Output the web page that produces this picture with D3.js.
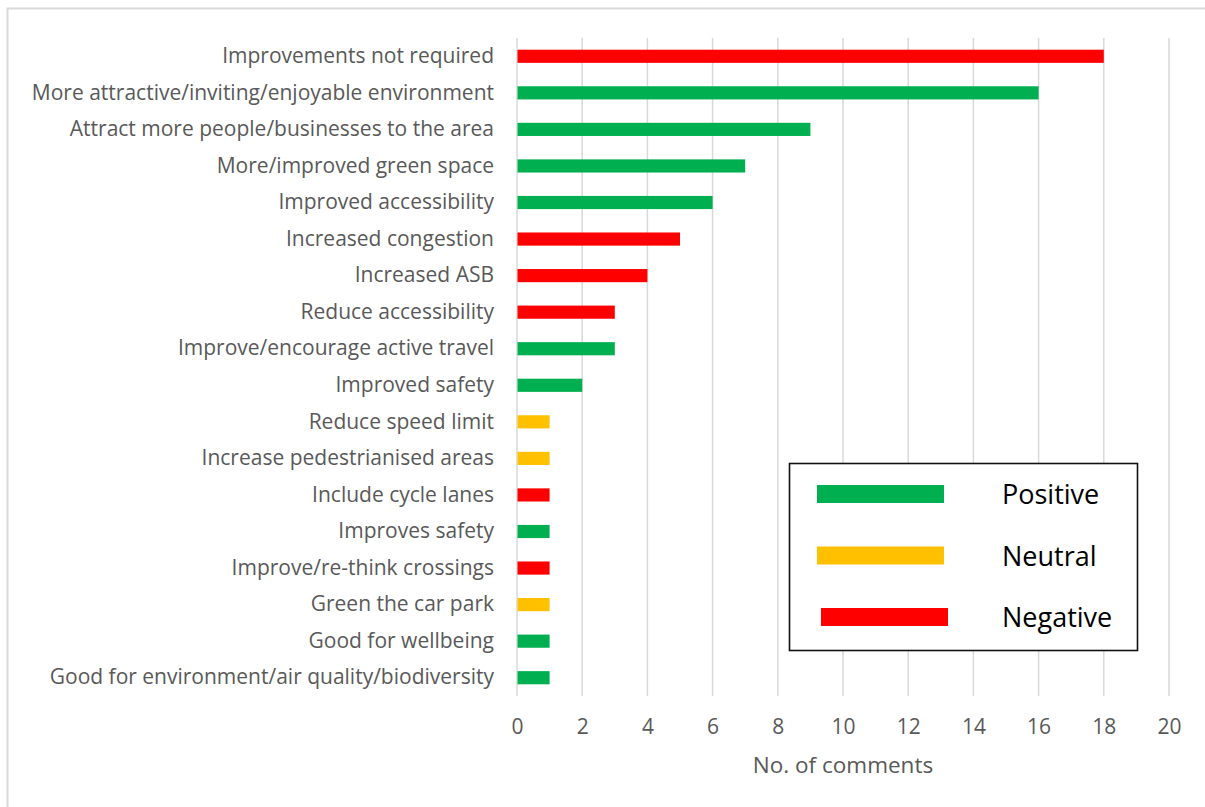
<!DOCTYPE html>
<html><head><meta charset="utf-8">
<script src="https://cdn.jsdelivr.net/npm/d3@7"></script>
<style>body{margin:0;background:#fff;} svg{display:block;}</style>
</head><body>
<svg id="chart" width="1205" height="807"></svg>
<script>
const categories = ["Improvements not required","More attractive/inviting/enjoyable environment","Attract more people/businesses to the area","More/improved green space","Improved accessibility","Increased congestion","Increased ASB","Reduce accessibility","Improve/encourage active travel","Improved safety","Reduce speed limit","Increase pedestrianised areas","Include cycle lanes","Improves safety","Improve/re-think crossings","Green the car park","Good for wellbeing","Good for environment/air quality/biodiversity"];
const values = [18,16,9,7,6,5,4,3,3,2,1,1,1,1,1,1,1,1];
const sentiment = ["Negative","Positive","Positive","Positive","Positive","Negative","Negative","Negative","Positive","Positive","Neutral","Neutral","Negative","Positive","Negative","Neutral","Positive","Positive"];
const legendLabels = ["Positive","Neutral","Negative"];
const xTicks = [0,2,4,6,8,10,12,14,16,18,20];
const colorOf = {Positive:"#00B050", Neutral:"#FFC000", Negative:"#FF0000"};

const svg = d3.select("#chart");
const font = "'Open Sans', sans-serif";
svg.append("rect").attr("x",7.5).attr("y",8.5).attr("width",1230).attr("height",830)
  .attr("fill","#fff").attr("stroke","#d9d9d9").attr("stroke-width",2);

const x = d3.scaleLinear().domain([0,20]).range([517,1169]);
const y = d3.scaleBand().domain(categories).range([38,696]).paddingInner(0.64).paddingOuter(0.32);

svg.append("g").selectAll("line").data(xTicks).join("line")
  .attr("x1",d=>x(d)).attr("x2",d=>x(d)).attr("y1",38).attr("y2",696)
  .attr("stroke","#d9d9d9").attr("stroke-width",1.5);

svg.append("g").selectAll("rect").data(categories).join("rect")
  .attr("x",x(0)+0.5).attr("y",d=>y(d))
  .attr("width",(d,i)=>x(values[i])-x(0)-0.5).attr("height",y.bandwidth())
  .attr("fill",(d,i)=>colorOf[sentiment[i]]);

const yAxis = svg.append("g").attr("transform","translate(517,0)")
  .call(d3.axisLeft(y).tickSize(0).tickPadding(23));
yAxis.select(".domain").remove();
yAxis.selectAll("text").attr("font-family",font).attr("font-size",21).attr("fill","#595959");

const xAxis = svg.append("g").attr("transform","translate(0,696)")
  .call(d3.axisBottom(x).tickValues(xTicks).tickSize(0).tickPadding(23));
xAxis.select(".domain").remove();
xAxis.selectAll("text").attr("font-family",font).attr("font-size",21).attr("fill","#595959");

svg.append("text").attr("x",843).attr("y",773).attr("text-anchor","middle")
  .attr("font-family",font).attr("font-size",22.5).attr("fill","#595959").text("No. of comments");

const lg = svg.append("g");
lg.append("rect").attr("x",789.5).attr("y",463.5).attr("width",348).attr("height",187)
  .attr("fill","#fff").attr("stroke","#111").attr("stroke-width",1.6);
const ly = d3.scalePoint().domain(legendLabels).range([494,617]);
lg.selectAll("rect.sw").data(legendLabels).join("rect").attr("class","sw")
  .attr("x",(d,i)=> i===2 ? 821 : 817).attr("y",d=>ly(d)-9).attr("width",127).attr("height",18)
  .attr("fill",d=>colorOf[d]);
lg.selectAll("text").data(legendLabels).join("text")
  .attr("x",1002).attr("y",d=>ly(d)+10)
  .attr("font-family",font).attr("font-size",27).attr("fill","#000").text(d=>d);
</script>
</body></html>
